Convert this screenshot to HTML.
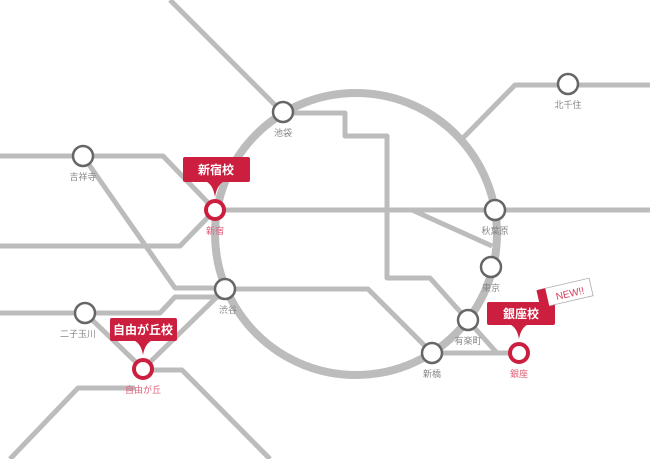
<!DOCTYPE html>
<html><head><meta charset="utf-8"><style>
html,body{margin:0;padding:0;background:#fff;}
svg{display:block;font-family:"Liberation Sans","Noto Sans CJK JP",sans-serif;}
</style></head><body>
<svg width="650" height="459" viewBox="0 0 650 459" xmlns="http://www.w3.org/2000/svg">
<g fill="none" stroke="#bcbcbc" stroke-width="5" stroke-linejoin="round">
<circle cx="356" cy="234" r="141" stroke-width="8"/>
<polyline points="170,0 283,113"/>
<polyline points="283,113 345,113 345,136 387,136 387,278 430,278 497,353 519,353"/>
<polyline points="215,210 650,210"/>
<polyline points="412,210 492,246"/>
<polyline points="463,138 515,85 568,85 650,85"/>
<polyline points="0,156 163,156 215,210"/>
<polyline points="83,156 175,288 225,288"/>
<polyline points="0,246 180,246 215,210"/>
<polyline points="225,289 368,289 432,353 519,353"/>
<polyline points="0,313 160,313 175,297 225,297"/>
<polyline points="85,313 143,369 225,289"/>
<polyline points="143,370 182,370 270,459"/>
<polyline points="10,459 78,388 135,388"/>
</g>
<g fill="#fff" stroke="#666" stroke-width="2.5">
<circle cx="283" cy="112" r="10"/>
<circle cx="83" cy="156" r="10"/>
<circle cx="568" cy="84" r="10"/>
<circle cx="495" cy="210" r="10"/>
<circle cx="491" cy="267" r="10"/>
<circle cx="468" cy="320" r="10"/>
<circle cx="432" cy="353" r="10"/>
<circle cx="225" cy="289" r="10"/>
<circle cx="85" cy="313" r="10"/>
</g>
<g fill="#fff" stroke="#cc1f3f" stroke-width="4">
<circle cx="215" cy="210" r="9"/>
<circle cx="143" cy="369" r="9"/>
<circle cx="519" cy="353" r="9"/>
</g>
<g font-size="9" fill="#888" text-anchor="middle">
<text x="283" y="136">池袋</text>
<text x="83" y="180">吉祥寺</text>
<text x="568" y="108">北千住</text>
<text x="495" y="234">秋葉原</text>
<text x="491" y="291">東京</text>
<text x="468" y="344">有楽町</text>
<text x="432" y="377">新橋</text>
<text x="228" y="313">渋谷</text>
<text x="78" y="337">二子玉川</text>
</g>
<g font-size="9" fill="#e0607a" text-anchor="middle">
<text x="215" y="234">新宿</text>
<text x="143" y="393">自由が丘</text>
<text x="519" y="377">銀座</text>
</g>
<g fill="#cc1f3f">
<rect x="183" y="157" width="67" height="25" rx="2"/>
<path d="M205,181 Q213,184 215,197 Q217,184 225,181 Z"/>
<rect x="110" y="318" width="67" height="23" rx="2"/>
<path d="M133,340 Q141,343 143,355 Q145,343 153,340 Z"/>
<rect x="487" y="302" width="68" height="23" rx="2"/>
<path d="M509,324 Q517,327 519,339 Q521,327 529,324 Z"/>
</g>
<g font-size="12" font-weight="bold" fill="#fff" text-anchor="middle">
<text x="216" y="174">新宿校</text>
<text x="143" y="334">自由が丘校</text>
<text x="521" y="318">銀座校</text>
</g>
<g transform="rotate(-13 565 294)">
<rect x="540" y="284" width="52" height="18" fill="#fff" stroke="#aaa" stroke-width="0.8"/>
<rect x="538" y="284" width="9" height="19" fill="#cc1f3f"/>
<text x="570" y="298" font-size="10" fill="#d04060" text-anchor="middle">NEW!!</text>
</g>
</svg>
</body></html>
